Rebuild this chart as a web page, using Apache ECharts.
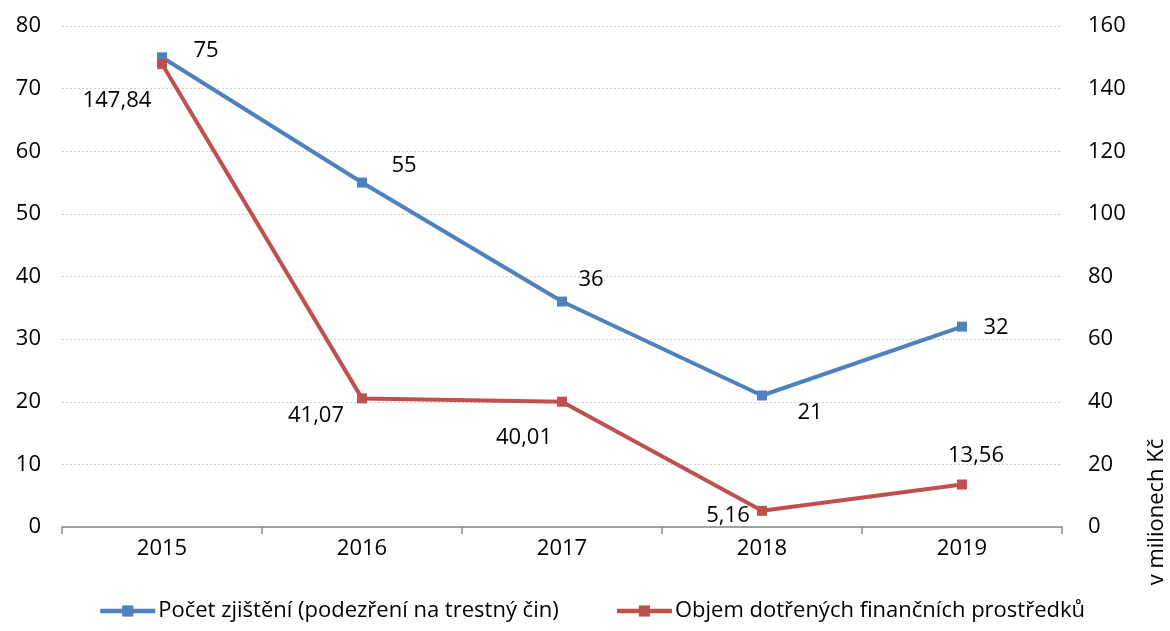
<!DOCTYPE html>
<html>
<head>
<meta charset="utf-8">
<script src="https://cdn.jsdelivr.net/npm/echarts@6/dist/echarts.min.js"></script>
<style>
  html, body { margin: 0; padding: 0; background: #fff; }
  #chart { width: 1170px; height: 631px; }
</style>
</head>
<body>
<div id="chart"></div>
<script>
// data
const years = ['2015', '2016', '2017', '2018', '2019']
const pocetZjisteni = [75, 55, 36, 21, 32]
const objemProstredku = [147.84, 41.07, 40.01, 5.16, 13.56]
const leftTicks = [0, 10, 20, 30, 40, 50, 60, 70, 80]
const rightTicks = [0, 20, 40, 60, 80, 100, 120, 140, 160]

const FONT = 'Open Sans'
const FS = 22
const blue = '#4F81BD'
const red = '#C0504D'

// label offsets per point (px), so the numbers sit where they are in the original
const blueLabelOffset = [[44, -7], [42, -17], [29, -22], [48, 17], [34, 1]]
const redLabelOffset = [[-45, 37], [-46, 17], [-38, 36], [-34, 5], [14, -29]]

const fmt = v => String(v).replace('.', ',')

const chart = echarts.init(document.getElementById('chart'))
chart.setOption({
  animation: false,
  textStyle: {fontFamily: FONT},
  grid: {left: 62, right: 108, top: 26, bottom: 104},
  legend: {
    bottom: 4,
    left: 93,
    itemWidth: 55,
    itemHeight: 14,
    itemGap: 56,
    lineStyle: {width: 4.5},
    textStyle: {fontFamily: FONT, fontSize: FS, color: '#000', padding: [0, 0, 0, -2]},
    data: ['Počet zjištění (podezření na trestný čin)', 'Objem dotřených finančních prostředků']
  },
  xAxis: {
    type: 'category',
    data: years,
    boundaryGap: true,
    axisLine: {lineStyle: {color: '#868686', width: 1.5}},
    axisTick: {show: true, length: 7, lineStyle: {color: '#868686', width: 1.5}},
    axisLabel: {color: '#000', fontSize: FS, margin: 11}
  },
  yAxis: [
    {
      type: 'value',
      min: leftTicks[0],
      max: leftTicks[leftTicks.length - 1],
      interval: leftTicks[1] - leftTicks[0],
      axisLine: {show: false},
      axisTick: {show: false},
      axisLabel: {color: '#000', fontSize: FS, margin: 21},
      splitLine: {lineStyle: {color: '#d0d0d0', type: [2, 2], width: 1}}
    },
    {
      type: 'value',
      min: rightTicks[0],
      max: rightTicks[rightTicks.length - 1],
      interval: rightTicks[1] - rightTicks[0],
      axisLine: {show: false},
      axisTick: {show: false},
      axisLabel: {color: '#000', fontSize: FS, margin: 26},
      splitLine: {show: false}
    }
  ],
  graphic: [{
    type: 'text',
    x: 1157,
    y: 512,
    rotation: Math.PI / 2,
    style: {
      text: 'v milionech Kč',
      fontFamily: FONT,
      fontSize: FS,
      fill: '#000',
      align: 'center',
      verticalAlign: 'middle'
    }
  }],
  series: [
    {
      name: 'Počet zjištění (podezření na trestný čin)',
      type: 'line',
      yAxisIndex: 0,
      data: pocetZjisteni.map((v, i) => ({
        value: v,
        label: {offset: blueLabelOffset[i]}
      })),
      symbol: 'rect',
      symbolSize: 10,
      lineStyle: {color: blue, width: 4},
      itemStyle: {color: blue},
      label: {
        show: true,
        position: 'inside',
        color: '#000',
        fontSize: FS,
        formatter: p => fmt(p.value)
      }
    },
    {
      name: 'Objem dotřených finančních prostředků',
      type: 'line',
      yAxisIndex: 1,
      data: objemProstredku.map((v, i) => ({
        value: v,
        label: {offset: redLabelOffset[i]}
      })),
      symbol: 'rect',
      symbolSize: 10,
      lineStyle: {color: red, width: 4},
      itemStyle: {color: red},
      label: {
        show: true,
        position: 'inside',
        color: '#000',
        fontSize: FS,
        formatter: p => fmt(p.value)
      }
    }
  ]
})
</script>
</body>
</html>
